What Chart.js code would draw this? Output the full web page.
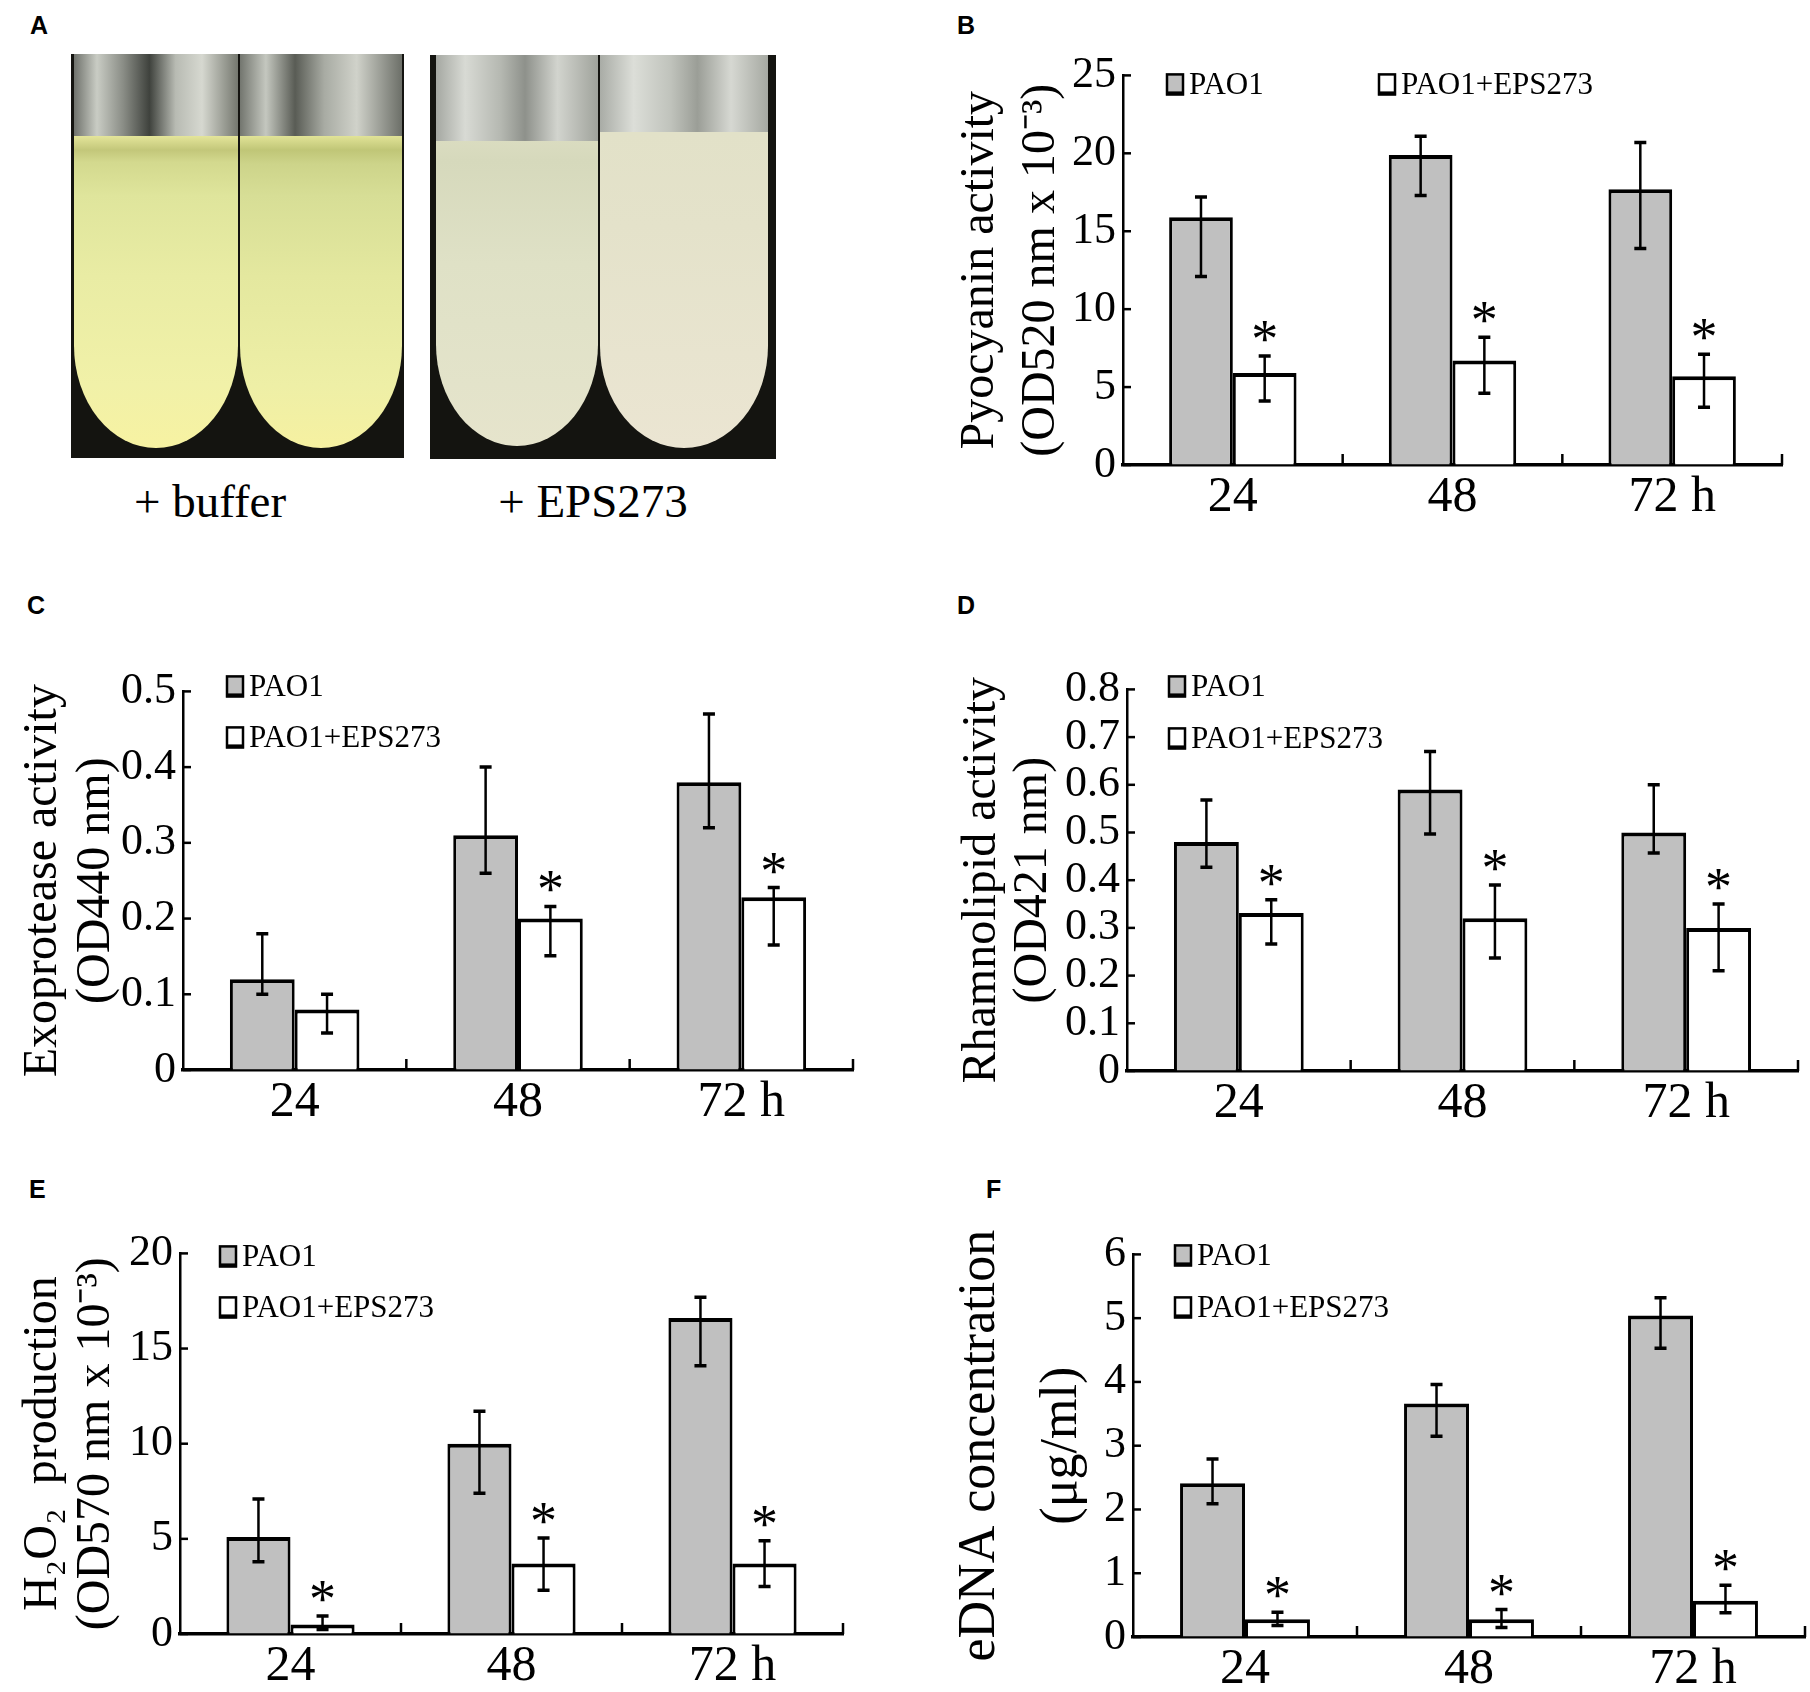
<!DOCTYPE html>
<html>
<head>
<title>EPS273 and PAO1 virulence factors</title>
<script src="https://cdn.jsdelivr.net/npm/chart.js"></script>
<style>
  body { margin: 0; background: #fff; }
  #page { position: relative; width: 1810px; height: 1692px; background: #fff; overflow: hidden; }
  canvas { position: absolute; }
  .letter { position: absolute; font: bold 25px "Liberation Sans", Arial, sans-serif; color: #000; line-height: 25px; }
  .photo { position: absolute; background: #141410; overflow: hidden; }
  .tube { position: absolute; top: 0; overflow: hidden; border-bottom-left-radius: 50% 26%; border-bottom-right-radius: 50% 26%; }
  .glass { position: absolute; left: 0; right: 0; top: 0; }
  .liquid { position: absolute; left: 0; right: 0; bottom: 0; }
  .caption { position: absolute; width: 320px; text-align: center; font: 47px "Liberation Serif", "Times New Roman", serif; line-height: 47px; color: #000; }
</style>
</head>
<body>
<div id="page">
  <div class="letter" style="left:30px;top:13px">A</div>
  <div class="letter" style="left:957px;top:13px">B</div>
  <div class="letter" style="left:27px;top:593px">C</div>
  <div class="letter" style="left:957px;top:593px">D</div>
  <div class="letter" style="left:29px;top:1177px">E</div>
  <div class="letter" style="left:986px;top:1177px">F</div>

  <!-- panel A: the photograph, sketched with plain boxes -->
  <div class="photo" style="left:71px;top:54px;width:333px;height:404px">
    <div class="tube" style="left:3px;width:164px;height:394px">
      <div class="glass" style="height:84px;background:linear-gradient(to right,#6f726c,#c9ccc4 14%,#8a8d86 30%,#3f423d 46%,#b8bbb3 62%,#d6d8d0 78%,#75786f)"></div>
      <div class="liquid" style="top:82px;background:linear-gradient(to bottom,#e4e59a 0px,#c3c77a 14px,#d3d98e 26px,#dfe59c 60px,#e9eca4 45%,#f1f1a8 80%,#f7f2a2 100%)"></div>
    </div>
    <div class="tube" style="left:169px;width:162px;height:394px">
      <div class="glass" style="height:84px;background:linear-gradient(to right,#73766f,#c4c7bf 16%,#595c55 34%,#a8aba3 52%,#d0d2ca 72%,#6c6f68)"></div>
      <div class="liquid" style="top:82px;background:linear-gradient(to bottom,#e1e397 0px,#c0c677 14px,#cdd48a 28px,#d7de96 60px,#e4e89f 45%,#eeefa6 80%,#f6f1a1 100%)"></div>
    </div>
  </div>
  <div class="photo" style="left:430px;top:55px;width:346px;height:404px">
    <div class="tube" style="left:6px;width:162px;height:391px">
      <div class="glass" style="height:88px;background:linear-gradient(to right,#a5a8a2,#d8dad4 18%,#b5b8b1 40%,#8e918b 55%,#d2d4ce 75%,#a0a39c)"></div>
      <div class="liquid" style="top:86px;background:linear-gradient(to bottom,#dadcc0 0px,#d6d9bc 20px,#dfe1c6 40%,#e3e3ca 80%,#e6e4cc 100%)"></div>
    </div>
    <div class="tube" style="left:170px;width:168px;height:393px">
      <div class="glass" style="height:79px;background:linear-gradient(to right,#a9aca6,#dcded8 20%,#c0c3bc 42%,#9b9e97 58%,#d6d8d2 78%,#a6a9a2)"></div>
      <div class="liquid" style="top:77px;background:linear-gradient(to bottom,#e2e1c8 0px,#e4e2ca 30%,#e8e4cf 70%,#ebe5d2 100%)"></div>
    </div>
  </div>
  <div class="caption" style="left:50px;top:478px">+ buffer</div>
  <div class="caption" style="left:433px;top:478px">+ EPS273</div>

  <canvas id="pyocyanin" width="880" height="508" style="left:930px;top:42px"></canvas>
  <canvas id="exoprotease" width="900" height="497" style="left:0px;top:658px"></canvas>
  <canvas id="rhamnolipid" width="880" height="500" style="left:930px;top:656px"></canvas>
  <canvas id="h2o2" width="900" height="472" style="left:0px;top:1220px"></canvas>
  <canvas id="edna" width="880" height="471" style="left:930px;top:1221px"></canvas>
</div>

<script>
    var hours = ['24', '48', '72 h'];
    var seriesNames = ['PAO1', 'PAO1+EPS273'];

    // B - pyocyanin (OD520 nm x 10^-3); hi/lo are the ends of the error bars
    var pyoPao1 = [15.9, 19.9, 17.7];
    var pyoPao1Hi = [17.2, 21.1, 20.7];
    var pyoPao1Lo = [12.1, 17.3, 13.9];
    var pyoEps = [5.9, 6.7, 5.7];
    var pyoEpsHi = [7.0, 8.2, 7.1];
    var pyoEpsLo = [4.1, 4.6, 3.7];
    var pyoStars = [true, true, true];

    // C - exoprotease (OD440 nm)
    var exoPao1 = [0.12, 0.31, 0.38];
    var exoPao1Hi = [0.18, 0.40, 0.47];
    var exoPao1Lo = [0.10, 0.26, 0.32];
    var exoEps = [0.08, 0.20, 0.228];
    var exoEpsHi = [0.10, 0.216, 0.241];
    var exoEpsLo = [0.049, 0.151, 0.165];
    var exoStars = [false, true, true];

    // D - rhamnolipid (OD421 nm)
    var rhaPao1 = [0.48, 0.59, 0.50];
    var rhaPao1Hi = [0.568, 0.67, 0.60];
    var rhaPao1Lo = [0.427, 0.497, 0.457];
    var rhaEps = [0.331, 0.32, 0.30];
    var rhaEpsHi = [0.359, 0.39, 0.35];
    var rhaEpsLo = [0.266, 0.237, 0.21];
    var rhaStars = [true, true, true];

    // E - H2O2 production (OD570 nm x 10^-3)
    var h2o2Pao1 = [5.1, 10.0, 16.6];
    var h2o2Pao1Hi = [7.1, 11.7, 17.7];
    var h2o2Pao1Lo = [3.8, 7.4, 14.1];
    var h2o2Eps = [0.5, 3.7, 3.7];
    var h2o2EpsHi = [0.95, 5.05, 4.9];
    var h2o2EpsLo = [0.24, 2.3, 2.5];
    var h2o2Stars = [true, true, true];

    // F - eDNA concentration (ug/ml)
    var ednaPao1 = [2.41, 3.66, 5.04];
    var ednaPao1Hi = [2.79, 3.96, 5.32];
    var ednaPao1Lo = [2.09, 3.15, 4.53];
    var ednaEps = [0.28, 0.28, 0.57];
    var ednaEpsHi = [0.39, 0.43, 0.81];
    var ednaEpsLo = [0.18, 0.15, 0.38];
    var ednaStars = [true, true, true];

    var serif = "'Liberation Serif', 'Times New Roman', serif";
    var noStars = [false, false, false];

    // error bars, stars, inward ticks and the little legend
    function extras(legendPos) {
        return {
            id: 'extras',
            afterDatasetsDraw: function (chart) {
                var c = chart.ctx, xs = chart.scales.x, ys = chart.scales.y, a = chart.chartArea;
                c.save();
                c.strokeStyle = '#000';
                c.fillStyle = '#000';

                // y ticks point into the plot
                c.lineWidth = 2.5;
                ys.ticks.forEach(function (t) {
                    var py = ys.getPixelForValue(t.value);
                    c.beginPath();
                    c.moveTo(a.left, py);
                    c.lineTo(a.left + 8, py);
                    c.stroke();
                });

                // x separators between the time points
                hours.forEach(function (h, i) {
                    var px = i < hours.length - 1
                        ? (xs.getPixelForValue(i) + xs.getPixelForValue(i + 1)) / 2
                        : a.right;
                    c.beginPath();
                    c.moveTo(px, a.bottom);
                    c.lineTo(px, a.bottom - 11);
                    c.stroke();
                });

                chart.data.datasets.forEach(function (ds, di) {
                    chart.getDatasetMeta(di).data.forEach(function (bar, j) {
                        var top = ys.getPixelForValue(ds.hi[j]);
                        var bot = ys.getPixelForValue(ds.lo[j]);
                        c.lineWidth = 2.5;
                        c.beginPath();
                        c.moveTo(bar.x, top);
                        c.lineTo(bar.x, bot);
                        c.stroke();
                        c.lineWidth = 3.5;
                        c.beginPath();
                        c.moveTo(bar.x - 6, top);
                        c.lineTo(bar.x + 6, top);
                        c.moveTo(bar.x - 6, bot);
                        c.lineTo(bar.x + 6, bot);
                        c.stroke();
                        if (ds.stars[j]) {
                            c.font = '54px ' + serif;
                            c.textAlign = 'center';
                            c.textBaseline = 'alphabetic';
                            c.fillText('*', bar.x, top + 1);
                        }
                    });
                });

                // legend
                c.font = '31px ' + serif;
                c.textAlign = 'left';
                c.textBaseline = 'middle';
                chart.data.datasets.forEach(function (ds, di) {
                    var bx = a.left + legendPos[di][0];
                    var by = a.top + legendPos[di][1];
                    c.fillStyle = ds.backgroundColor;
                    c.fillRect(bx, by - 10, 16, 20);
                    c.lineWidth = 2.5;
                    c.strokeRect(bx, by - 10, 16, 20);
                    c.lineWidth = 4;
                    c.beginPath();
                    c.moveTo(bx - 1, by + 9);
                    c.lineTo(bx + 17, by + 9);
                    c.stroke();
                    c.fillStyle = '#000';
                    c.fillText(ds.label, bx + 22, by + 1);
                });
                c.restore();
            }
        };
    }

    function makeChart(id, p) {
        var ctx = document.getElementById(id).getContext('2d');
        return new Chart(ctx, {
            type: 'bar',
            data: {
                labels: hours,
                datasets: [{
                    label: seriesNames[0],
                    data: p.pao1, hi: p.pao1Hi, lo: p.pao1Lo, stars: noStars,
                    backgroundColor: '#c0c0c0',
                    borderColor: '#000',
                    borderWidth: { top: 4, left: 3, right: 3, bottom: 0 },
                    borderSkipped: 'start',
                    categoryPercentage: 0.58,
                    barPercentage: 1.0
                }, {
                    label: seriesNames[1],
                    data: p.eps, hi: p.epsHi, lo: p.epsLo, stars: p.stars,
                    backgroundColor: '#ffffff',
                    borderColor: '#000',
                    borderWidth: { top: 4, left: 3, right: 3, bottom: 0 },
                    borderSkipped: 'start',
                    categoryPercentage: 0.58,
                    barPercentage: 1.0
                }]
            },
            options: {
                responsive: false,
                animation: false,
                devicePixelRatio: 1,
                layout: { padding: { top: 30, right: p.padRight, left: 0, bottom: 0 } },
                plugins: { legend: { display: false }, tooltip: { enabled: false } },
                scales: {
                    x: {
                        grid: { drawOnChartArea: false, drawTicks: false },
                        border: { color: '#000', width: 3.5 },
                        ticks: { color: '#000', font: { family: serif, size: 50 }, padding: 3 },
                        afterFit: function (s) { s.height = p.xHeight; }
                    },
                    y: {
                        min: 0,
                        max: p.max,
                        grid: { drawOnChartArea: false, drawTicks: false },
                        border: { color: '#000', width: 2.5 },
                        ticks: { stepSize: p.step, autoSkip: false, color: '#000', font: { family: serif, size: 44 }, padding: 7 },
                        title: {
                            display: true,
                            text: p.title,
                            color: '#000',
                            font: { family: serif, size: p.titleSize, lineHeight: p.titleLh },
                            padding: { top: p.titlePad, bottom: 0 }
                        },
                        afterFit: function (s) { s.width = p.yWidth; }
                    }
                }
            },
            plugins: [extras(p.legend)]
        });
    }

    makeChart('pyocyanin', {
        pao1: pyoPao1, pao1Hi: pyoPao1Hi, pao1Lo: pyoPao1Lo,
        eps: pyoEps, epsHi: pyoEpsHi, epsLo: pyoEpsLo, stars: pyoStars,
        max: 25, step: 5,
        title: ['Pyocyanin activity', '(OD520 nm x 10\u207B\u00B3)'],
        titleSize: 48, titleLh: 1.27, titlePad: 20,
        yWidth: 193, xHeight: 85, padRight: 28,
        legend: [[44, 9], [256, 9]]
    });

    makeChart('exoprotease', {
        pao1: exoPao1, pao1Hi: exoPao1Hi, pao1Lo: exoPao1Lo,
        eps: exoEps, epsHi: exoEpsHi, epsLo: exoEpsLo, stars: exoStars,
        max: 0.5, step: 0.1,
        title: ['Exoprotease activity', '(OD440 nm)'],
        titleSize: 48, titleLh: 1.1, titlePad: 17,
        yWidth: 183, xHeight: 85, padRight: 47,
        legend: [[44, -5], [44, 46]]
    });

    makeChart('rhamnolipid', {
        pao1: rhaPao1, pao1Hi: rhaPao1Hi, pao1Lo: rhaPao1Lo,
        eps: rhaEps, epsHi: rhaEpsHi, epsLo: rhaEpsLo, stars: rhaStars,
        max: 0.8, step: 0.1,
        title: ['Rhamnolipid activity', '(OD421 nm)'],
        titleSize: 48, titleLh: 1.06, titlePad: 27,
        yWidth: 197, xHeight: 85, padRight: 12,
        legend: [[42, -3], [42, 49]]
    });

    makeChart('h2o2', {
        pao1: h2o2Pao1, pao1Hi: h2o2Pao1Hi, pao1Lo: h2o2Pao1Lo,
        eps: h2o2Eps, epsHi: h2o2EpsHi, epsLo: h2o2EpsLo, stars: h2o2Stars,
        max: 20, step: 5,
        title: ['H\u2082O\u2082  production', '(OD570 nm x 10\u207B\u00B3)'],
        titleSize: 48, titleLh: 1.1, titlePad: 17,
        yWidth: 180, xHeight: 58, padRight: 57,
        legend: [[40, 3], [40, 54]]
    });

    makeChart('edna', {
        pao1: ednaPao1, pao1Hi: ednaPao1Hi, pao1Lo: ednaPao1Lo,
        eps: ednaEps, epsHi: ednaEpsHi, epsLo: ednaEpsLo, stars: ednaStars,
        max: 6, step: 1,
        title: ['eDNA concentration', '(\u03BCg/ml)'],
        titleSize: 52, titleLh: 1.58, titlePad: 9,
        yWidth: 203, xHeight: 55, padRight: 5,
        legend: [[42, 1], [42, 53]]
    });
</script>
</body>
</html>
